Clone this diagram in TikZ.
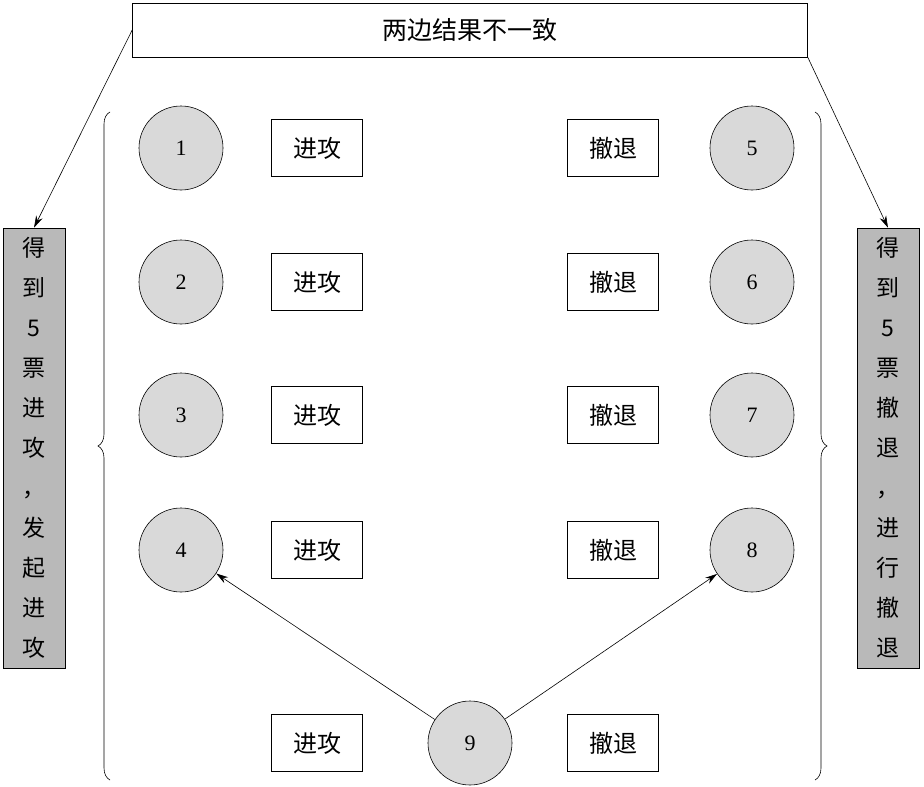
\documentclass[tikz,border=0pt]{standalone}
\usepackage{fontspec}
\setmainfont{Liberation Serif}
\newfontfamily\cjk{Noto Sans CJK SC}
\usetikzlibrary{decorations.pathreplacing,arrows.meta}
\begin{document}
\begin{tikzpicture}[x=1pt,y=-1pt,semithick,
  circ/.style={circle,draw,fill=gray!30,minimum size=84pt,inner sep=0pt,font=\fontsize{22}{22}\selectfont},
  lbl/.style={draw,minimum width=91pt,minimum height=57pt,inner sep=0pt,font=\cjk\fontsize{24}{24}\selectfont},
  side/.style={draw,fill=gray!55,minimum width=62pt,minimum height=440pt,align=center,inner sep=0pt,font=\cjk\fontsize{23}{40}\selectfont},
  arr/.style={-{Stealth[length=12pt,width=7pt]}}]
\useasboundingbox (0,0) rectangle (924,787);
\node[draw,minimum width=675pt,minimum height=54pt,font=\cjk\fontsize{25}{25}\selectfont] (top) at (470,30) {两边结果不一致};
\foreach \n/\y in {1/148,2/282,3/415,4/550}{
  \node[circ] (c\n) at (181,\y) {\n};
  \node[lbl] (a\n) at (317,\y) {进攻};}
\foreach \n/\y in {5/148,6/282,7/415,8/550}{
  \node[circ] (c\n) at (752,\y) {\n};
  \node[lbl] (r\n) at (613,\y) {撤退};}
\node[circ] (c9) at (470,743) {9};
\node[lbl] (a9) at (317,743) {进攻};
\node[lbl] (r9) at (613,743) {撤退};
\node[side] (L) at (34,448) {得\\到\\5\\票\\进\\攻\\，\\发\\起\\进\\攻};
\node[side] (R) at (888,448) {得\\到\\5\\票\\撤\\退\\，\\进\\行\\撤\\退};
\draw[arr] (top.west) -- (L.north);
\draw[arr] (top.south east) -- (R.north);
\draw[arr] (c9) -- (c4);
\draw[arr] (c9) -- (c8);
\coordinate (lb1) at (110,112); \coordinate (lb2) at (110,780);
\coordinate (rb1) at (815,112); \coordinate (rb2) at (815,780);
\draw[decorate,decoration={brace,amplitude=12pt}] (lb2) -- (lb1);
\draw[decorate,decoration={brace,amplitude=12pt}] (rb1) -- (rb2);
\end{tikzpicture}
\end{document}
